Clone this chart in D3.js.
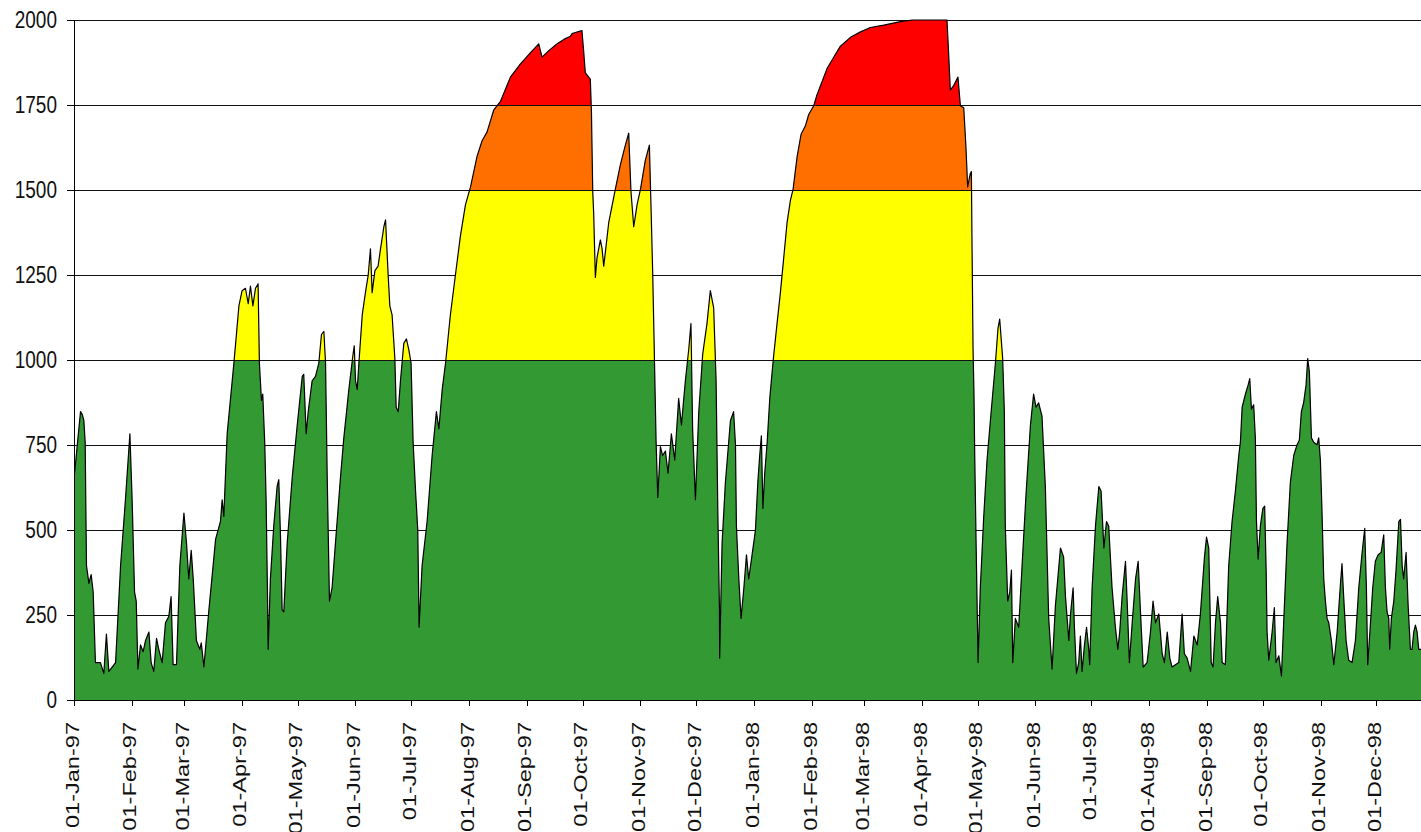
<!DOCTYPE html>
<html>
<head>
<meta charset="utf-8">
<script src="https://cdn.jsdelivr.net/npm/d3@7"></script>
<style>
  body { margin: 0; background: #fff; }
  text { font-family: "Liberation Sans", Arial, sans-serif; }
</style>
</head>
<body>
<svg id="chart" width="1421" height="832"></svg>
<script>
// days counted from 01-Jan-97
const startDate = Date.UTC(1997, 0, 1);
const lastDay = 722.9;

const yTicks = [0, 250, 500, 750, 1000, 1250, 1500, 1750, 2000];
const bandLimits = [1000, 1500, 1750];
const bandColours = ["#339933", "#ffff00", "#ff6f00", "#ff0000"];

// [day, value]
const flow1997 = [
  [0,650],[3.5,848],[4.4,840],[5.3,822],[6,758],[6.7,395],[8,343],[9.2,369],[10.3,317],[11.5,110],[14.2,110],[16,78],[17.4,194],[18.7,84],[20.5,97],[22.3,110],[25,395],[27.6,589],[30,783],[31.2,589],[32.5,317],[33.4,291],[34.3,91],[35.7,162],[37.1,142],[38.4,175],[40.2,200],[41.4,110],[42.8,84],[44.3,181],[45.5,149],[47.3,110],[49.1,227],[50.9,246],[52.1,304],[53.2,104],[55,104],[56.8,395],[59,550],[60.4,460],[61.6,356],[62.9,440],[64,356],[65.7,175],[67.5,149],[68.3,168],[69.7,97],[72.4,265],[76,473],[78.6,525],[79.5,589],[80.4,540],[82.2,783],[85.8,990],
  [88.5,1159],[90.2,1204],[92,1211],[93.5,1166],[94.7,1217],[96,1159],[97.4,1211],[98.8,1224],[99.5,991],[100.6,881],[101.3,900],[102.4,751],[103.1,589],[103.8,330],[104.2,149],[105.4,356],[107.2,512],[109,628],[109.9,648],[110.8,486],[111.7,265],[112.6,259],[114.4,460],[117.1,654],[119.8,809],[122.5,952],[123.3,958],[124.6,783],[125.7,848],[127.8,939],[129.6,952],[131.4,991],[132.8,1075],[134.1,1084],[135,991],[135.9,654],[137.1,291],[138.5,330],[140.3,460],[143,654],[144.8,771],[147.5,913],[149.6,1010],[150.4,1042],[151.1,939],[152,913],[152.9,991],[154.7,1133],[156.4,1198],[157.9,1250],[159.1,1327],[160,1198],[161.5,1263],[163.2,1276],[164.5,1327],[166.3,1392],[167.2,1412],[168.6,1250],[169.5,1159],[170.7,1133],[172.2,1004],[172.9,861],[174,848],[175.2,939],[177,1049],
  [178.4,1062],[179.7,1030],[180.9,991],[182,758],[183.3,615],[184.5,499],[185.2,214],[186.8,395],[189.5,525],[192.2,719],[194.5,848],[195.8,797],[197.6,913],[199.4,991],[202,1133],[204.7,1250],[207.4,1366],[210.1,1457],[212.8,1509],[216.3,1599],[219,1645],[221.7,1671],[225.3,1736],[228.9,1761],[234.2,1832],[239.6,1871],[245,1904],[249.4,1930],[251.2,1891],[254.8,1910],[259.3,1930],[262.9,1943],[266.4,1952],
  [267.3,1960],[272.6,1969],[273.5,1910],[274.4,1845],[276.2,1832],[277.1,1826],[277.7,1729],[278.4,1496],[278.9,1431],[279.8,1243],[280.7,1301],[282.5,1353],[283.4,1327],[284.3,1276],[287,1405],[290.5,1502],[293.2,1574],[295.9,1632],[297.7,1667],[298.9,1496],[300.4,1392],[302.2,1457],[304,1502],[306.6,1587],[308.8,1632],[309.7,1444],[310.6,1250],[311.6,978],[312.4,758],[313.3,596],[314.7,745],[315.9,719],[317.4,732],[318.8,667],[320.6,783],[322.4,706],[324.5,887],[326,809],[328.1,939],[329.9,1030],[331.1,1107],[332,797],[333.5,589],[335.3,848],[337.4,1017],[339.7,1107],[341.5,1204],[343.3,1153],[344.6,939],[345.5,563],[346.4,265],[346.5,123],[347.8,460],[349.6,641],[352.3,822],[354,848],
  [355,751],[355.5,512],[356.8,356],[358,240],[359.5,330],[360.9,427],[362.1,356],[363.9,427]
];

const flow1998 = [
  [365.7,499],[367,641],[368,719],[368.9,777],[369.7,563],[370.7,667],[372,758],[373.4,887],[375.2,997],[377.3,1107],[379.1,1198],[380.9,1301],[382.7,1405],[384.5,1470],[385.9,1502],[388.1,1599],[390.2,1664],[392.6,1690],[394.3,1722],[397,1748],[398.8,1781],[401.5,1819],[404.2,1858],[407.8,1891],[411.3,1923],[416.7,1949],[422.1,1965],[427.4,1978],[434.6,1985],[443.5,1995],
  [450,2000],[468.5,2000],[469.1,1936],[470.3,1794],[472.1,1807],[474.4,1832],[475.7,1748],[477.5,1742],[478.7,1625],[479.6,1509],[481,1548],[481.6,1554],[481.9,1366],[482.5,1030],[483,900],[483.4,719],[484.1,473],[485.2,110],[486.4,330],[488.2,537],[490,706],[491.8,822],[494.5,991],[495.9,1094],[496.8,1120],[498.4,1004],[499.3,848],[499.8,512],[501.1,291],[502.2,317],[503.1,382],[503.8,110],[505.2,240],[507,214],[508.8,395],[510.9,602],[513.3,809],[515,900],[516.3,861],[517.7,874],[519.5,835],[521.3,628],[523.1,240],[524.9,91],[526.7,278],[529.4,447],[531.1,421],
  [532.1,304],[533.9,175],[534.8,253],[536.2,330],[536.9,214],[538,78],[539.2,110],[540.1,188],[541,84],[542.3,162],[543.4,214],[544.6,149],[545.1,104],[546.4,330],[548.2,512],[550,628],[551.2,615],[552.7,447],[554.1,525],[555.3,512],[557.1,330],[558.9,214],[560.2,149],[561.2,200],[562.5,304],[564.3,408],[565.2,291],[566.4,110],[567.9,227],[569.7,356],[571.1,408],[572.3,265],[573.8,97],[575.9,110],[577.7,200],[579.1,291],[580.4,227],[582.2,253],[584,136],[585.2,110],[586.7,200],[588.1,123],[589.3,97],[591.1,104],[592.9,110],[594.7,253],[595.9,136],[597.4,123],[599.2,84],[601,188],[602.8,162],[604.5,253],[606.7,421],[607.8,479],[609,447],[610.3,110],[611.3,97],[612.6,227],[613.8,304],[615.3,227],[616.2,110],[617.9,104],[619.7,395],[621.5,525],[623.3,615],[625.1,719],
  [626,760],[626.9,861],[628.7,900],[630.1,926],[631,945],[631.9,855],[633.1,868],[634,771],[634.6,525],[635.5,414],[636.7,512],[638,563],[639,570],[639.8,382],[640.3,200],[641.2,117],[643,200],[644.2,272],[645.1,110],[646.6,130],[648,71],[649.2,227],[651,460],[652.8,641],[654.6,719],[656.4,751],[657.6,764],[658.7,848],[659.9,874],[661.2,926],[662.1,1004],[663,965],[664.1,771],[665.3,758],[667.1,751],[668,771],[668.9,706],[669.8,550],[670.7,356],[671.6,291],[672.5,240],[673.4,227],[674.8,175],[676.1,104],[677.9,200],[679.7,343],[680.5,401],[681.4,304],[682.7,175],[684.1,117],[685.9,110],[687.7,175],[689.5,330],[691.3,434],[692.7,505],[693.6,330],[694.3,104],[695.8,227],[697,330],[698.4,408],[699.9,427],[701.5,434],[702.9,486],[703.8,330],[704.7,259],[705.6,240],[706.1,149],[707,240],[708.3,291],[709.5,382],[711,525],[711.9,531],[712.8,395],[713.6,356],[714.9,434],[716,278],[717.2,149],[718.1,149],[719,200],[719.9,220],[720.8,200],[721.7,149],[723.1,149]
];

const data = flow1997.concat(flow1998);
const toDate = d => new Date(startDate + d * 864e5);

const svg = d3.select("#chart");
const plotLeft = 74, plotRight = 1421, plotTop = 20, plotBottom = 700;

const x = d3.scaleUtc().domain([toDate(0), toDate(lastDay)]).range([plotLeft, plotRight]);
const y = d3.scaleLinear().domain([0, 2000]).range([plotBottom, plotTop]);

const defs = svg.append("defs");
defs.append("clipPath").attr("id", "plot")
  .append("rect").attr("x", plotLeft).attr("y", plotTop - 1)
  .attr("width", plotRight - plotLeft).attr("height", plotBottom - plotTop + 1);

// colour bands as a hard-stop gradient
const grad = defs.append("linearGradient").attr("id", "bands")
  .attr("gradientUnits", "userSpaceOnUse")
  .attr("x1", 0).attr("x2", 0).attr("y1", y(0)).attr("y2", y(2000));
const edges = [0, ...bandLimits, 2000];
bandColours.forEach((c, i) => {
  grad.append("stop").attr("offset", edges[i] / 2000).attr("stop-color", c);
  grad.append("stop").attr("offset", edges[i + 1] / 2000).attr("stop-color", c);
});

const area = d3.area()
  .x(d => x(toDate(d[0])))
  .y0(y(0))
  .y1(d => y(Math.min(d[1], 2000)));
const line = d3.line()
  .x(d => x(toDate(d[0])))
  .y(d => y(Math.min(d[1], 2000)));

defs.append("clipPath").attr("id", "under")
  .append("path").attr("d", area(data));

// gridlines
svg.append("g").selectAll("line")
  .data(yTicks.filter(v => v > 0))
  .join("line")
  .attr("x1", plotLeft).attr("x2", plotRight)
  .attr("y1", d => Math.round(y(d)) + 0.5).attr("y2", d => Math.round(y(d)) + 0.5)
  .attr("stroke", "#111").attr("stroke-width", 1);

const plot = svg.append("g").attr("clip-path", "url(#plot)");

plot.append("path")
  .attr("d", area(data))
  .attr("fill", "url(#bands)");

// band borders inside the filled area
plot.append("g").attr("clip-path", "url(#under)")
  .selectAll("line")
  .data(bandLimits)
  .join("line")
  .attr("x1", plotLeft).attr("x2", plotRight)
  .attr("y1", d => Math.round(y(d)) + 0.5).attr("y2", d => Math.round(y(d)) + 0.5)
  .attr("stroke", "#111").attr("stroke-width", 1);

plot.append("path")
  .attr("d", line(data))
  .attr("fill", "none")
  .attr("stroke", "#000")
  .attr("stroke-width", 1.2)
  .attr("stroke-linejoin", "round");

// axes
const yAxis = svg.append("g")
  .attr("transform", `translate(${plotLeft},0)`)
  .call(d3.axisLeft(y).tickValues(yTicks).tickFormat(d3.format("d"))
    .tickSize(7).tickSizeOuter(0).tickPadding(10));
yAxis.selectAll("text")
  .attr("font-size", 19)
  .attr("fill", "#111")
  .attr("transform", "scale(1,1.25)");

const xAxis = svg.append("g")
  .attr("transform", `translate(0,${plotBottom})`)
  .call(d3.axisBottom(x)
    .ticks(d3.utcMonth.every(1))
    .tickFormat(d3.utcFormat("%d-%b-%y"))
    .tickSize(6).tickSizeOuter(0));
xAxis.selectAll("text")
  .attr("font-size", 19)
  .attr("fill", "#111")
  .attr("x", 0).attr("y", 0)
  .attr("dy", "0.22em")
  .attr("text-anchor", "end")
  .attr("transform", "translate(0,22) rotate(-90) scale(1.24,1)");

svg.selectAll(".domain, .tick line").attr("stroke", "#000").attr("shape-rendering", "crispEdges");
svg.selectAll(".tick text").attr("font-family", "'Liberation Sans', Arial, sans-serif");
</script>
</body>
</html>
